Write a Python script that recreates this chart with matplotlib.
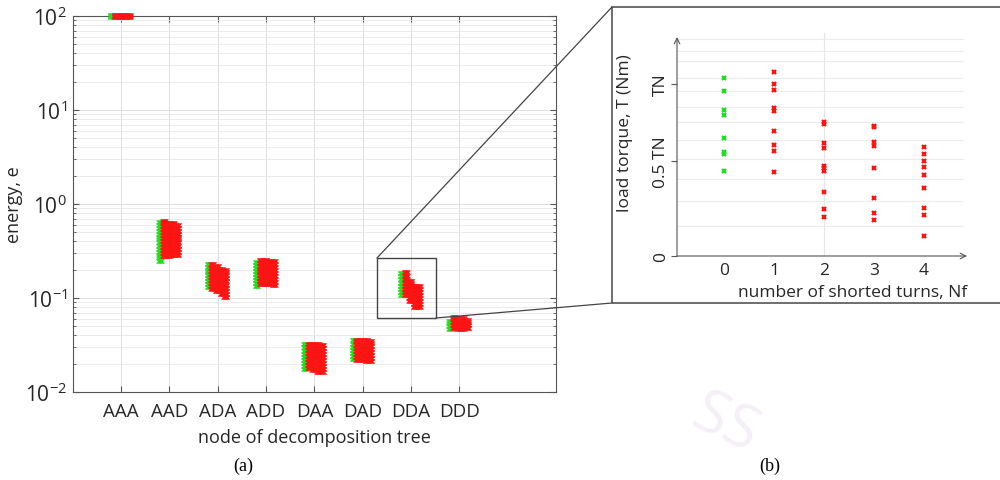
import matplotlib
matplotlib.use('Agg')
import matplotlib.pyplot as plt
from matplotlib.lines import Line2D
from matplotlib.patches import Rectangle

plt.rcParams['font.family'] = ['Open Sans', 'DejaVu Sans']
plt.rcParams['mathtext.fontset'] = 'custom'
plt.rcParams['mathtext.rm'] = 'Open Sans'
plt.rcParams['mathtext.it'] = 'Open Sans:italic'

# ---- panel (a): energy of the wavelet packet nodes ----
nodes = ['AAA', 'AAD', 'ADA', 'ADD', 'DAA', 'DAD', 'DDA', 'DDD']

# energy values, one list per number of shorted turns Nf = 0..4
e_aaa = [[98, 100, 102], [98, 100, 102], [98, 100, 102], [98, 100, 102], [98, 100, 102]]
e_aad = [[0.25, 0.27, 0.29, 0.31, 0.335, 0.36, 0.39, 0.42, 0.45, 0.485, 0.52, 0.56, 0.60, 0.64],
         [0.28, 0.30, 0.325, 0.35, 0.375, 0.405, 0.435, 0.47, 0.505, 0.545, 0.585, 0.63, 0.655],
         [0.28, 0.30, 0.325, 0.35, 0.38, 0.41, 0.44, 0.475, 0.51, 0.55, 0.59, 0.63],
         [0.29, 0.31, 0.335, 0.36, 0.39, 0.42, 0.45, 0.485, 0.52, 0.56, 0.60, 0.63],
         [0.29, 0.31, 0.335, 0.36, 0.39, 0.42, 0.45, 0.485, 0.52, 0.56, 0.60]]
e_ada = [[0.13, 0.14, 0.15, 0.162, 0.175, 0.188, 0.20, 0.215, 0.23],
         [0.125, 0.135, 0.145, 0.156, 0.168, 0.18, 0.194, 0.21, 0.23],
         [0.12, 0.13, 0.14, 0.15, 0.162, 0.175, 0.188, 0.20, 0.22],
         [0.11, 0.118, 0.127, 0.137, 0.148, 0.16, 0.172, 0.185, 0.205],
         [0.103, 0.111, 0.12, 0.129, 0.139, 0.15, 0.162, 0.175, 0.19, 0.20]]
e_add = [[0.134, 0.144, 0.155, 0.167, 0.18, 0.194, 0.21, 0.225, 0.242],
         [0.14, 0.15, 0.162, 0.175, 0.188, 0.20, 0.218, 0.235, 0.253],
         [0.14, 0.15, 0.162, 0.175, 0.188, 0.20, 0.218, 0.235, 0.253],
         [0.14, 0.15, 0.162, 0.175, 0.188, 0.20, 0.218, 0.235, 0.25],
         [0.137, 0.148, 0.16, 0.172, 0.185, 0.20, 0.215, 0.232, 0.248]]
e_daa = [[0.0176, 0.019, 0.0205, 0.022, 0.0237, 0.0255, 0.0275, 0.0298, 0.0322],
         [0.018, 0.0194, 0.0209, 0.0225, 0.0242, 0.026, 0.028, 0.030, 0.0324],
         [0.017, 0.0183, 0.0197, 0.0212, 0.0228, 0.0246, 0.0265, 0.0285, 0.0307, 0.0324],
         [0.0165, 0.0178, 0.0192, 0.0207, 0.0223, 0.024, 0.0258, 0.0278, 0.030, 0.0322],
         [0.0163, 0.0176, 0.019, 0.0205, 0.022, 0.0237, 0.0255, 0.0275, 0.0297, 0.032]]
e_dad = [[0.0224, 0.0241, 0.026, 0.028, 0.0302, 0.0327, 0.0355],
         [0.022, 0.0237, 0.0255, 0.0275, 0.0296, 0.032, 0.0345, 0.0357],
         [0.0218, 0.0235, 0.0253, 0.0273, 0.0294, 0.0317, 0.0342, 0.0357],
         [0.0216, 0.0233, 0.0251, 0.027, 0.0291, 0.0314, 0.0338, 0.0355],
         [0.0214, 0.023, 0.0248, 0.0267, 0.0288, 0.031, 0.0334, 0.035]]
e_dda = [[0.108, 0.116, 0.125, 0.135, 0.146, 0.158, 0.17, 0.184],
         [0.108, 0.116, 0.125, 0.135, 0.146, 0.158, 0.17, 0.187],
         [0.093, 0.10, 0.108, 0.116, 0.125, 0.135, 0.146, 0.152],
         [0.08, 0.086, 0.093, 0.10, 0.108, 0.116, 0.125, 0.134],
         [0.08, 0.086, 0.093, 0.10, 0.108, 0.116, 0.125, 0.134]]
e_ddd = [[0.047, 0.0505, 0.054, 0.057],
         [0.048, 0.0515, 0.0555, 0.06, 0.063],
         [0.047, 0.0505, 0.0545, 0.0585, 0.062],
         [0.047, 0.0505, 0.0545, 0.0585, 0.061],
         [0.0475, 0.051, 0.055, 0.0585]]
energy = [e_aaa, e_aad, e_ada, e_add, e_daa, e_dad, e_dda, e_ddd]

# ---- panel (b): tested load torque (fraction of TN) per Nf ----
nf = [0, 1, 2, 3, 4]
torque_nf0 = [1.033, 0.958, 0.849, 0.820, 0.688, 0.606, 0.595, 0.494]
torque_nf1 = [1.072, 1.0, 0.967, 0.862, 0.841, 0.729, 0.645, 0.609, 0.490]
torque_nf2 = [0.781, 0.769, 0.657, 0.630, 0.525, 0.510, 0.494, 0.374, 0.273, 0.225]
torque_nf3 = [0.758, 0.748, 0.664, 0.641, 0.510, 0.337, 0.250, 0.209]
torque_nf4 = [0.632, 0.591, 0.554, 0.516, 0.473, 0.394, 0.281, 0.238, 0.115]
torque = [torque_nf0, torque_nf1, torque_nf2, torque_nf3, torque_nf4]
torque_ticks = [0, 0.552, 1.0]
torque_ticklabels = ['0', '0.5 TN', 'TN']
torque_grid = [1.262, 1.192, 1.134, 1.035, 0.959, 0.866, 0.779, 0.674, 0.564, 0.448, 0.320, 0.174]

GREEN = '#1ee01e'
RED = '#ff1414'
W, H = 1000, 481


def fx(px):
    return px / W


def fy(py):
    return 1 - py / H


fig = plt.figure(figsize=(10, 4.81), dpi=100)

# ---------- left axes ----------
ax = fig.add_axes([fx(72.7), fy(393), (556 - 72.7) / W, (393 - 17) / H])
ax.set_yscale('log')
ax.set_xlim(0, 10)
ax.set_ylim(0.01, 100)
ax.set_xticks(range(1, 9))
ax.set_xticklabels(nodes, fontsize=13.5, color='#262626')
ax.tick_params(axis='x', pad=7)
ax.tick_params(axis='y', labelsize=15, labelcolor='#262626', pad=4)
ax.tick_params(which='both', direction='in', top=True, right=True, color='#555555')
ax.tick_params(which='major', length=4)
ax.tick_params(which='minor', length=2.5)
ax.grid(True, which='major', color='#dedede', lw=0.7)
ax.grid(True, which='minor', axis='y', color='#e8e8e8', lw=0.6)
ax.set_axisbelow(True)
for s in ax.spines.values():
    s.set_color('#555555')
    s.set_linewidth(0.8)

x0, dx = -0.23, 0.01
for i, node_e in enumerate(energy):
    k = 0
    for g in range(5):
        col = GREEN if g == 0 else RED
        xs, ys = [], []
        for j in range(len(torque[g])):
            for v in node_e[g]:
                xs.append(i + 1 + x0 + (k + j) * dx)
                ys.append(v)
        k += len(torque[g])
        ax.plot(xs, ys, ls='none', marker='x', ms=3, mew=0.6, color=col,
                clip_on=False, zorder=3)

ax.set_ylabel('energy, e', fontsize=13, color='#262626')
ax.yaxis.set_label_coords(-0.103, 0.5)
ax.set_xlabel('node of decomposition tree', fontsize=13, color='#262626')
ax.xaxis.set_label_coords(0.5, -0.095)

# ---------- zoom box and connecting lines ----------
zc = '#444444'
fig.patches.append(Rectangle((fx(377), fy(319)), (436 - 377) / W, (319 - 259) / H,
                             transform=fig.transFigure, fill=False, ec=zc, lw=1.0))
fig.patches.append(Rectangle((fx(612), fy(304)), (1010 - 612) / W, (304 - 8) / H,
                             transform=fig.transFigure, fill=False, ec='#555555', lw=1.2))
fig.lines.append(Line2D([fx(377), fx(612)], [fy(259), fy(8)], transform=fig.transFigure,
                        color=zc, lw=0.9))
fig.lines.append(Line2D([fx(436), fx(612)], [fy(319), fy(304)], transform=fig.transFigure,
                        color=zc, lw=0.9))

# ---------- right axes (b) ----------
bx = fig.add_axes([fx(677), fy(257), (967 - 677) / W, (257 - 38) / H])
bx.set_xlim(-0.94, 4.86)
bx.set_ylim(0, 1.273)
for s in bx.spines.values():
    s.set_visible(False)
bx.hlines(torque_grid, -0.94, 4.78, color='#ececec', lw=0.8, zorder=0)
bx.vlines(2, 0, 1.30, color='#e6e6e6', lw=0.8, zorder=0, clip_on=False)
bx.annotate('', xy=(4.86, 0), xytext=(-0.94, 0), annotation_clip=False,
            arrowprops=dict(arrowstyle='->', lw=0.8, color='#555555', shrinkA=0, shrinkB=0))
bx.annotate('', xy=(-0.94, 1.273), xytext=(-0.94, 0), annotation_clip=False,
            arrowprops=dict(arrowstyle='->', lw=0.8, color='#555555', shrinkA=0, shrinkB=0))
for g in nf:
    bx.plot([g] * len(torque[g]), torque[g], ls='none', marker='x', ms=3.5, mew=1.6,
            color=GREEN if g == 0 else RED, zorder=3)
bx.set_xticks(nf)
bx.set_xticklabels([str(n) for n in nf], fontsize=12.5, color='#262626')
bx.tick_params(axis='x', length=0, pad=4)
bx.set_yticks(torque_ticks)
bx.set_yticklabels(torque_ticklabels, rotation=90, va='center', fontsize=12.5, color='#262626')
bx.tick_params(axis='y', length=4, color='#555555', pad=2)

fig.text(fx(625), fy(133), 'load torque, T (Nm)', rotation=90, ha='center', va='center',
         fontsize=12.5, color='#262626')
fig.text(fx(853), fy(293), 'number of shorted turns, Nf', ha='center', va='center',
         fontsize=12.5, color='#262626')

# ---------- sub-figure letters and faint watermark ----------
fig.text(fx(243), fy(466), '(a)', ha='center', va='center', fontsize=13,
         family=['Liberation Serif', 'DejaVu Serif'])
fig.text(fx(770), fy(466), '(b)', ha='center', va='center', fontsize=13,
         family=['Liberation Serif', 'DejaVu Serif'])
fig.text(fx(725), fy(425), 'SS', ha='center', va='center', fontsize=44, rotation=-25,
         color='#f5f0f7', zorder=-1)

fig.savefig('out.png', dpi=100)
